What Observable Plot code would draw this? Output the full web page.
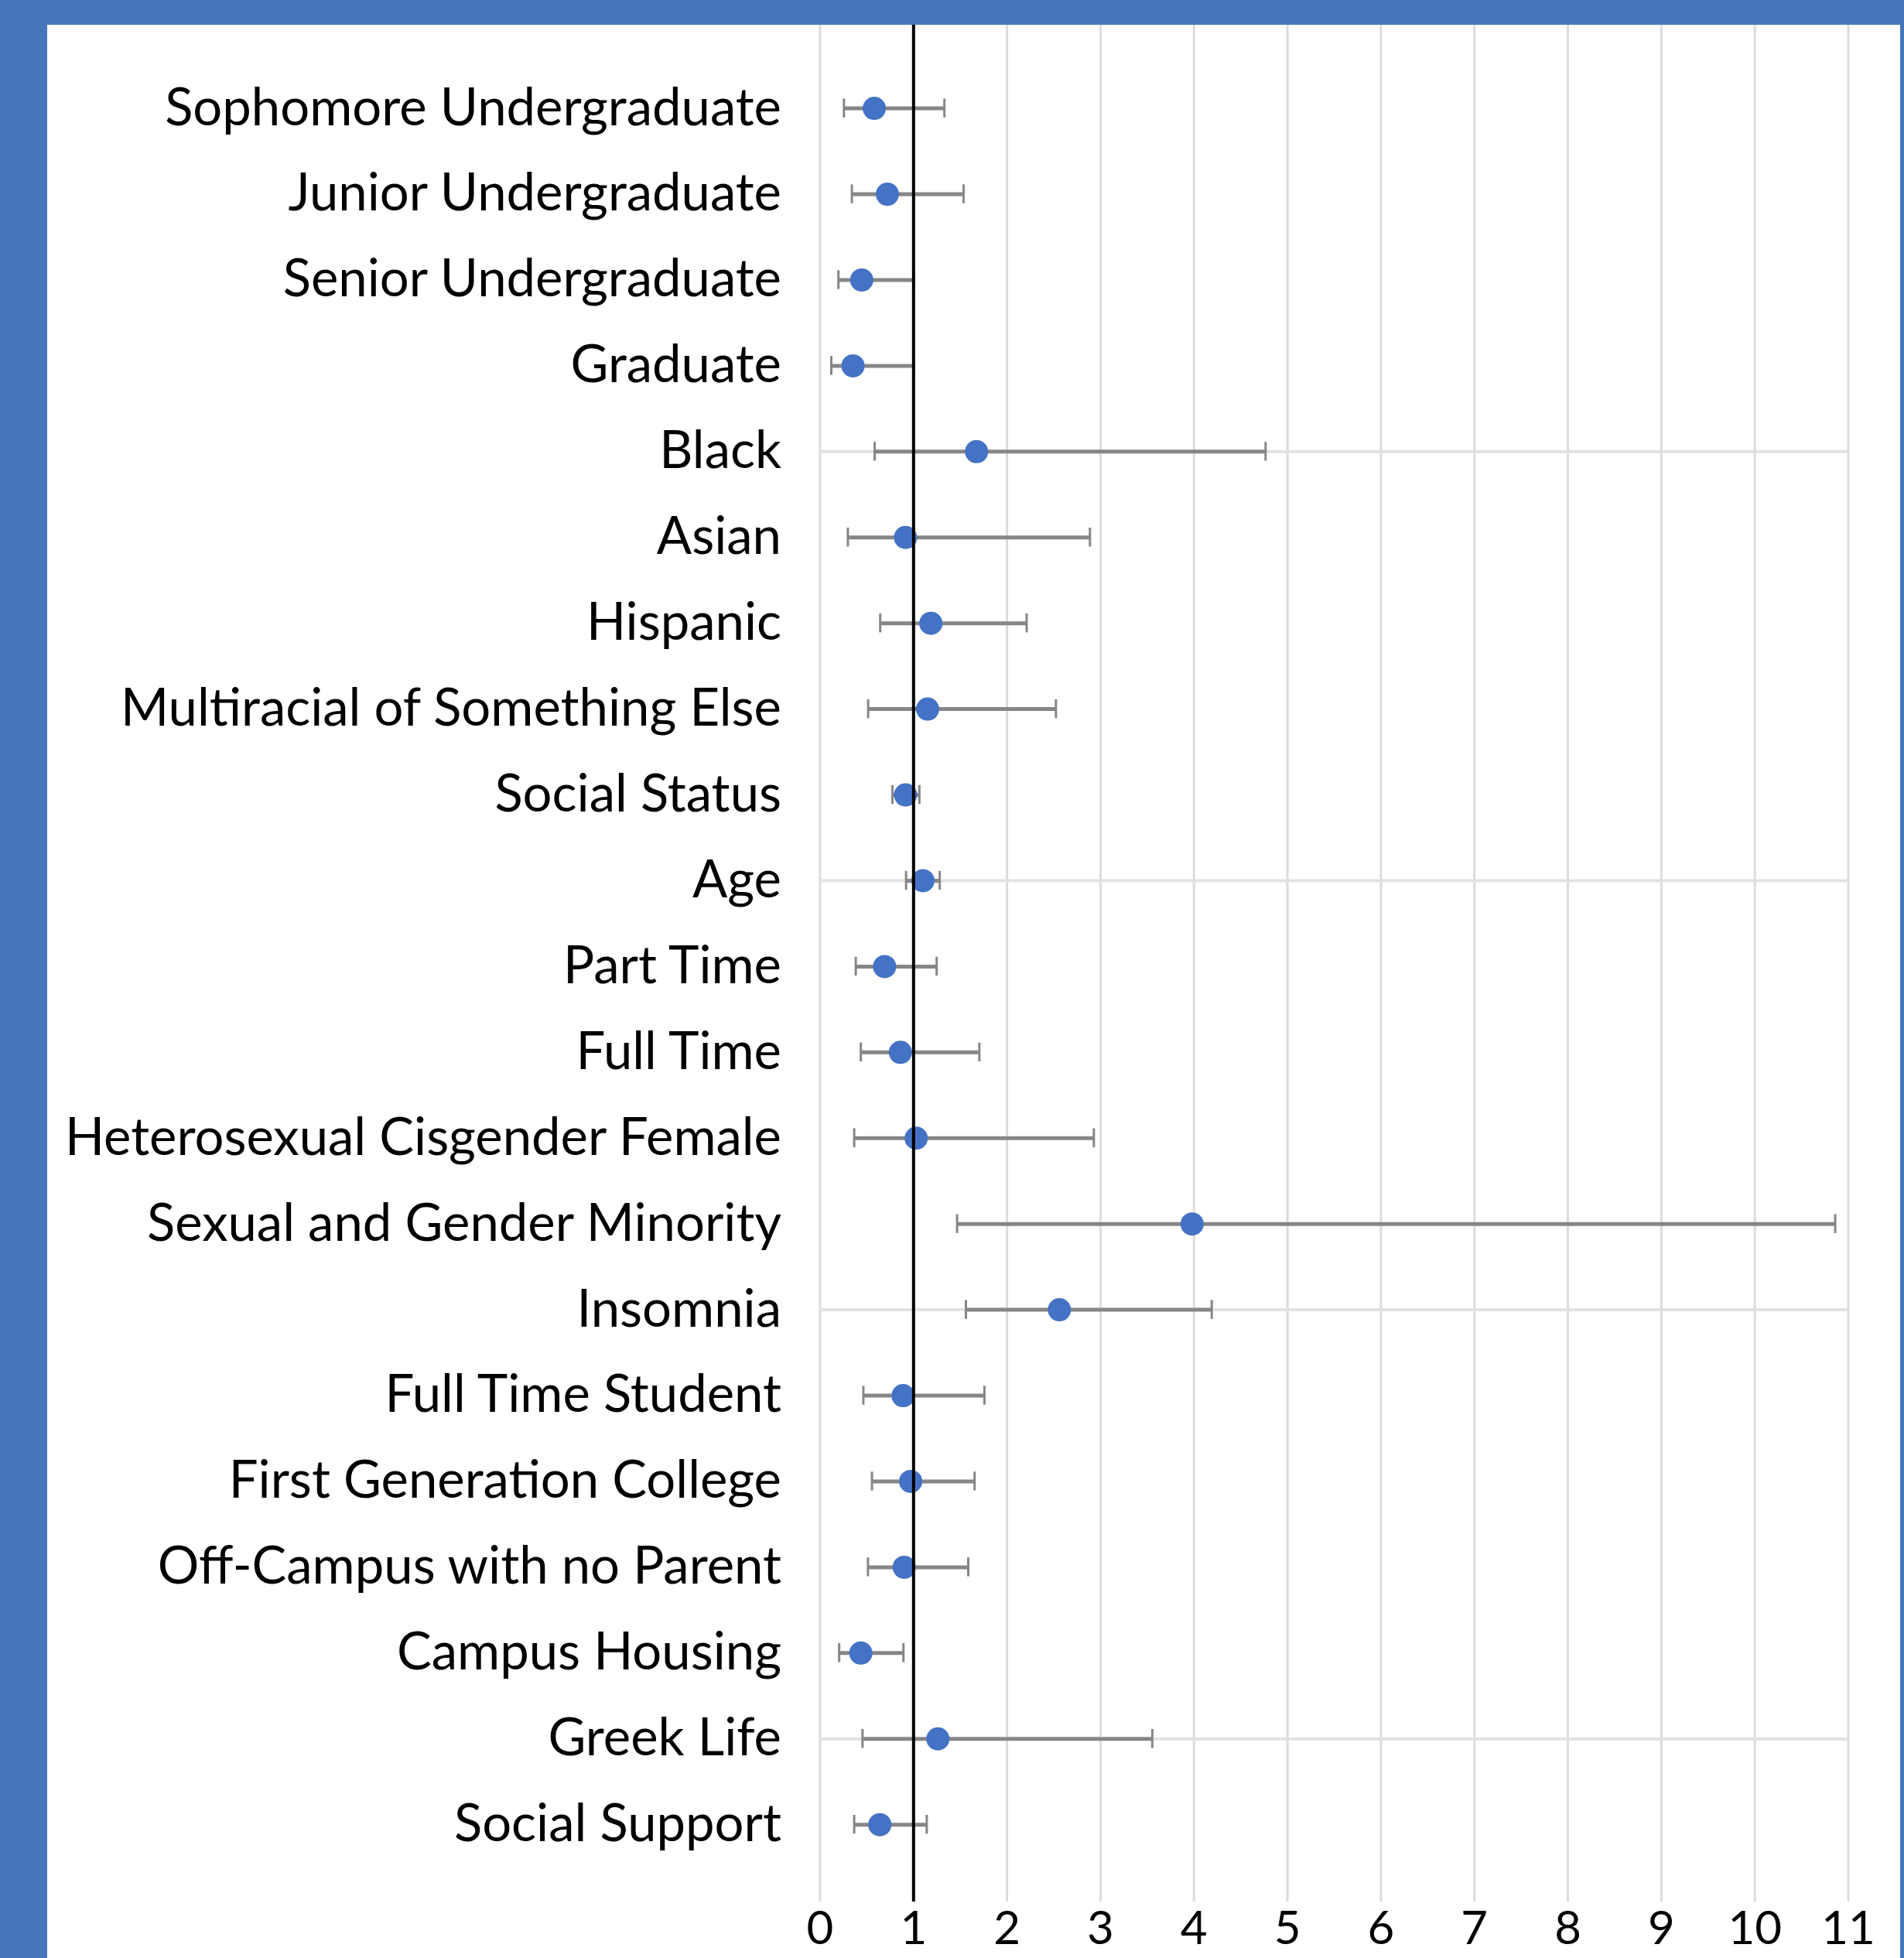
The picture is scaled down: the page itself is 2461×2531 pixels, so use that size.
<!DOCTYPE html>
<html>
<head>
<meta charset="utf-8">
<script src="https://cdn.jsdelivr.net/npm/d3@7"></script>
<script src="https://cdn.jsdelivr.net/npm/@observablehq/plot@0.6"></script>
<style>
  html, body { margin: 0; padding: 0; background: #ffffff; overflow: hidden; }
  #frame { position: absolute; left: 0; top: 0; width: 2461px; height: 2531px; background: #4576BB; }
  #chart { position: absolute; left: 61px; top: 32px; width: 2395px; height: 2499px; background: #ffffff; }
  #chart svg { display: block; }
</style>
</head>
<body>
<div id="frame"><div id="chart"></div></div>
<script>
// ---- data (odds ratios with 95% CI) ----
const categories = [
  "Sophomore Undergraduate",
  "Junior Undergraduate",
  "Senior Undergraduate",
  "Graduate",
  "Black",
  "Asian",
  "Hispanic",
  "Multiracial of Something Else",
  "Social Status",
  "Age",
  "Part Time",
  "Full Time",
  "Heterosexual Cisgender Female",
  "Sexual and Gender Minority",
  "Insomnia",
  "Full Time Student",
  "First Generation College",
  "Off-Campus with no Parent",
  "Campus Housing",
  "Greek Life",
  "Social Support"
];
const estimates = [0.58, 0.72, 0.445, 0.352, 1.674, 0.914, 1.185, 1.15, 0.914, 1.10,
                   0.69, 0.859, 1.028, 3.98, 2.56, 0.888, 0.969, 0.90, 0.436, 1.26, 0.639];
const lower     = [0.255, 0.34, 0.196, 0.12, 0.584, 0.297, 0.643, 0.514, 0.774, 0.92,
                   0.382, 0.436, 0.365, 1.466, 1.56, 0.463, 0.555, 0.512, 0.204, 0.454, 0.365];
const upper     = [1.33, 1.535, 1.0, 1.0, 4.766, 2.887, 2.21, 2.523, 1.062, 1.28,
                   1.247, 1.704, 2.929, 10.86, 4.19, 1.758, 1.653, 1.585, 0.892, 3.554, 1.141];
const xTicks = [0, 1, 2, 3, 4, 5, 6, 7, 8, 9, 10, 11];
const yGridTicks = [5, 10, 15, 20];
const referenceLine = [1];

// ---- table built from the arrays ----
const rows = categories.map((c, i) => ({
  pos: i + 1, name: c, or: estimates[i], lo: lower[i], hi: upper[i]
}));
const capHalf = 0.11;

const chart = Plot.plot({
  width: 2395,
  height: 2499,
  marginLeft: 998.5,
  marginRight: 67.5,
  marginTop: 0,
  marginBottom: 73,
  style: { fontFamily: "Lato, 'Open Sans', sans-serif", fontSize: "67px", color: "#000", background: "#fff" },
  x: { domain: [0, 11] },
  y: { domain: [0.03, 21.9], reverse: true },
  marks: [
    Plot.gridX(xTicks, { stroke: "#dcdcdc", strokeOpacity: 1, strokeWidth: 3 }),
    Plot.gridY(yGridTicks, { stroke: "#e2e2e2", strokeOpacity: 1, strokeWidth: 4 }),
    Plot.ruleY(rows, { y: "pos", x1: "lo", x2: "hi", stroke: "#868686", strokeWidth: 5 }),
    Plot.ruleX(rows, { x: "lo", y1: d => d.pos - capHalf, y2: d => d.pos + capHalf, stroke: "#868686", strokeWidth: 3 }),
    Plot.ruleX(rows, { x: "hi", y1: d => d.pos - capHalf, y2: d => d.pos + capHalf, stroke: "#868686", strokeWidth: 3 }),
    Plot.dot(rows, { x: "or", y: "pos", r: 15, fill: "#4472C4", stroke: "none" }),
    Plot.ruleX(referenceLine, { stroke: "#000", strokeWidth: 4 }),
    Plot.axisX(xTicks, { tickSize: 0, tickPadding: 12, fontSize: 60, label: null, tickFormat: d => String(d) }),
    Plot.axisY(rows.map(d => d.pos), {
      tickSize: 0, tickPadding: 50, label: null,
      tickFormat: p => categories[p - 1]
    })
  ]
});
document.getElementById("chart").appendChild(chart);
</script>
</body>
</html>
